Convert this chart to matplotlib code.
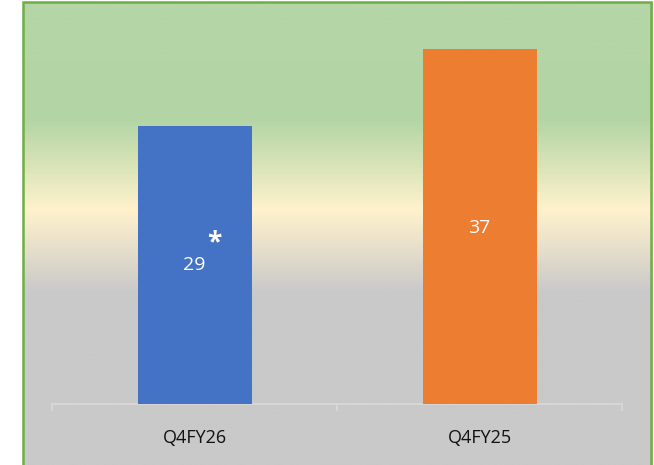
import numpy as np
import matplotlib.pyplot as plt
from matplotlib.colors import LinearSegmentedColormap
from matplotlib.patches import Rectangle

categories = ["Q4FY26", "Q4FY25"]
values = [29, 37]
bar_colors = ["#4472c4", "#ed7d31"]

W, H = 654, 465
fig = plt.figure(figsize=(W / 100, H / 100), dpi=100)

# fondo con degradado (verde -> crema -> gris)
bg = fig.add_axes([23 / W, 0, (652 - 23) / W, (H - 2) / H])
bg.set_axis_off()
stops = [(0.0, "#c9c9c9"), ((465 - 293) / 463, "#c9c9c9"),
         ((465 - 210) / 463, "#fff2cc"), ((465 - 120) / 463, "#b3d5a5"),
         (1.0, "#b5d5a7")]
cmap = LinearSegmentedColormap.from_list("bgfill", stops)
grad = np.linspace(0, 1, 512).reshape(-1, 1)
bg.imshow(grad, aspect="auto", cmap=cmap, origin="lower", extent=[0, 1, 0, 1])
bg.set_xlim(0, 1)
bg.set_ylim(0, 1)
# borde verde (sin borde inferior visible)
fig.patches.append(Rectangle((23 / W, -0.05), (651 - 23) / W, (H - 2) / H + 0.05,
                             transform=fig.transFigure, fill=False,
                             edgecolor="#70ad47", linewidth=1.8, zorder=5))

ax = fig.add_axes([52 / W, (H - 404) / H, 570 / W, 384 / H])
ax.patch.set_alpha(0)
x = np.arange(len(categories))
ax.bar(x, values, width=0.4, color=bar_colors, zorder=3)
ax.set_xlim(-0.5, 1.5)
ax.set_ylim(0, 40)

for s in ["top", "right", "left"]:
    ax.spines[s].set_visible(False)
ax.spines["bottom"].set_color("#d9d9d9")
ax.spines["bottom"].set_linewidth(1.2)
ax.set_yticks([])
ax.set_xticks(x)
ax.set_xticklabels(categories, fontsize=13, family="Open Sans", color="#111111")
ax.tick_params(axis="x", which="major", length=0, pad=18)
ax.set_xticks([-0.5, 0.5, 1.5], minor=True)
ax.tick_params(axis="x", which="minor", length=5, width=1.2, color="#d9d9d9",
               direction="out")

# etiquetas de valor
ax.text(x[0], 14.5, str(values[0]), ha="center", va="center", color="white",
        fontsize=14, family="Open Sans", zorder=4)
ax.text(x[0] + 0.07, 16.8, "*", ha="center", va="center", color="white",
        fontsize=19, fontweight="bold", family="Open Sans", zorder=4)
ax.text(x[1], 18.3, str(values[1]), ha="center", va="center", color="white",
        fontsize=14, family="Open Sans", zorder=4)

fig.savefig("out.png", dpi=100)
